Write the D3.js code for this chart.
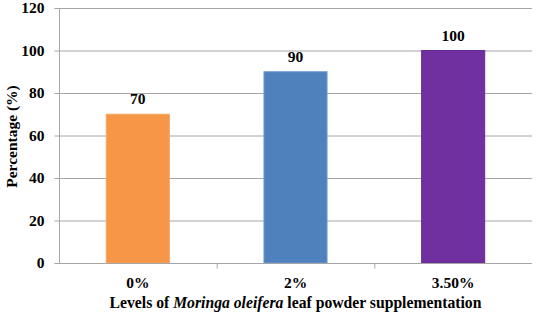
<!DOCTYPE html>
<html>
<head>
<meta charset="utf-8">
<script src="https://cdn.jsdelivr.net/npm/d3@7"></script>
<style>
  body { margin: 0; background: #fff; }
  svg text { font-family: "Liberation Serif", "DejaVu Serif", serif !important; font-weight: bold; }
</style>
</head>
<body>
<script>
// Valores
const levels = ['0%', '2%', '3.50%'];
const percentages = [70, 90, 100];
const barColors = ['#F79646', '#4F81BD', '#7030A0'];
const barStrokes = ['#F4A460', '#6A9BD8', '#6A2A98'];
const yTicks = [0, 20, 40, 60, 80, 100, 120];

const WIDTH = 536, HEIGHT = 316;
const margin = {top: 8, right: 4, bottom: 53, left: 59};
const width = WIDTH - margin.left - margin.right,
    height = HEIGHT - margin.top - margin.bottom;

const FONT = '15.5px';

const svg = d3.select('body')
    .append('svg')
        .attr('width', WIDTH)
        .attr('height', HEIGHT)
    .append('g')
        .attr('transform', `translate(${margin.left},${margin.top})`);

const xScale = d3.scaleBand()
    .domain(levels)
    .range([0, width])
    .padding(0);

const yScale = d3.scaleLinear()
    .domain([0, 120])
    .range([height, 0]);

const barWidth = xScale.bandwidth() * 0.4;

// Líneas de cuadrícula
svg.selectAll('.grid')
    .data(yTicks.filter(d => d > 0))
    .enter().append('line')
        .attr('class', 'grid')
        .attr('x1', 0)
        .attr('x2', width)
        .attr('y1', d => yScale(d) + 0.5)
        .attr('y2', d => yScale(d) + 0.5)
        .attr('stroke', '#A6A6A6')
        .attr('stroke-width', 1);

// Barras
svg.selectAll('.bar')
    .data(percentages)
    .enter().append('rect')
        .attr('class', 'bar')
        .attr('x', (d, i) => xScale(levels[i]) + (xScale.bandwidth() - barWidth) / 2)
        .attr('y', d => yScale(d))
        .attr('width', barWidth)
        .attr('height', d => height - yScale(d))
        .attr('fill', (d, i) => barColors[i])
        .attr('stroke', (d, i) => barStrokes[i])
        .attr('stroke-width', 1);

// Etiquetas de valores
svg.selectAll('.value')
    .data(percentages)
    .enter().append('text')
        .attr('class', 'value')
        .attr('x', (d, i) => xScale(levels[i]) + xScale.bandwidth() / 2)
        .attr('y', d => yScale(d) - 10)
        .attr('text-anchor', 'middle')
        .style('font-size', FONT)
        .text(d => d);

// Eje Y
const yAxis = d3.axisLeft(yScale).tickValues(yTicks).tickSize(5).tickPadding(10);
const gy = svg.append('g')
    .attr('class', 'axis axis--y')
    .attr('transform', 'translate(0.5,0)')
    .call(yAxis);
gy.select('.domain').attr('stroke', '#A6A6A6').attr('d', `M-5,${yScale(120) + 0.5}H0V${height + 0.5}H-5`);
gy.selectAll('.tick line').attr('stroke', '#A6A6A6');
gy.selectAll('.tick text')
    .attr('fill', '#000')
    .style('font-size', FONT);

// Eje X
const xAxis = d3.axisBottom(xScale).tickSize(0).tickPadding(13);
const gx = svg.append('g')
    .attr('class', 'axis axis--x')
    .attr('transform', `translate(0,${height + 0.5})`)
    .call(xAxis);
gx.select('.domain').attr('stroke', '#A6A6A6').attr('d', `M0,0H${width}`);
gx.selectAll('.tick text')
    .attr('fill', '#000')
    .style('font-size', FONT);

// Pequeñas marcas entre categorías
gx.selectAll('.sep')
    .data(levels.slice(1))
    .enter().append('line')
        .attr('class', 'sep')
        .attr('x1', d => xScale(d) + 0.5)
        .attr('x2', d => xScale(d) + 0.5)
        .attr('y1', 0)
        .attr('y2', 5)
        .attr('stroke', '#A6A6A6');

// Títulos de los ejes
const xTitle = svg.append('text')
    .attr('x', width / 2)
    .attr('y', height + 45)
    .attr('text-anchor', 'middle')
    .style('font-size', '15.7px');
xTitle.append('tspan').text('Levels of ');
xTitle.append('tspan').style('font-style', 'italic').text('Moringa oleifera');
xTitle.append('tspan').text(' leaf powder supplementation');

svg.append('text')
    .attr('transform', `translate(${-42},${height / 2 + 1}) rotate(-90)`)
    .attr('text-anchor', 'middle')
    .style('font-size', '15.5px')
    .text('Percentage (%)');
</script>
</body>
</html>
